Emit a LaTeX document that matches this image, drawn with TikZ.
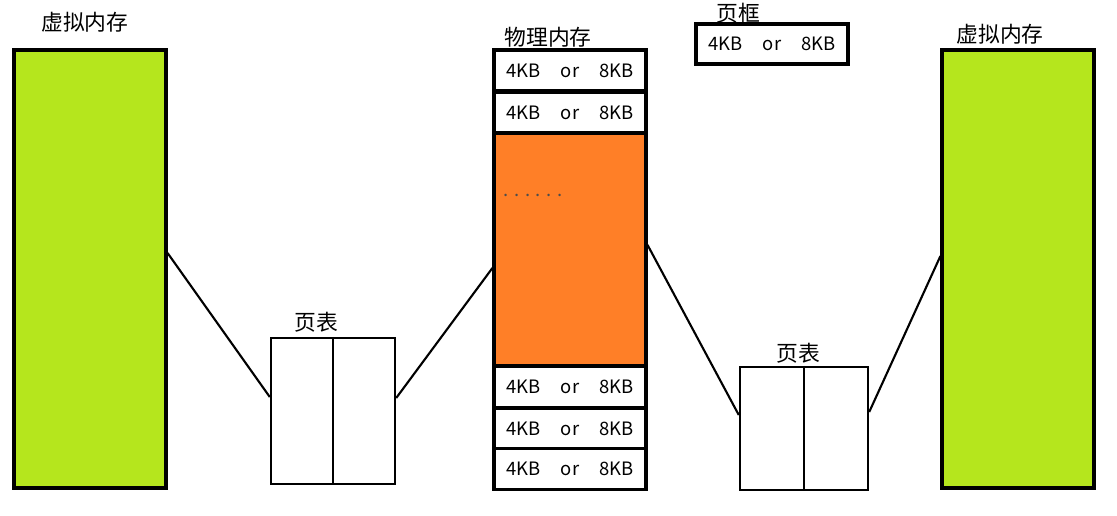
\documentclass[tikz,border=0pt]{standalone}
\usepackage{fontspec}
\newfontfamily\cjk{Noto Sans CJK SC}
\usetikzlibrary{positioning}

\definecolor{limegreen}{HTML}{B5E61D}
\definecolor{paintorange}{HTML}{FF7F27}

\begin{document}
\begin{tikzpicture}[
  x=0.02cm, y=-0.02cm,
  every node/.style={font=\cjk\fontsize{10.5}{12}\selectfont, inner sep=0pt},
  title/.style={font=\cjk\fontsize{12.4}{14}\selectfont},
  vmem/.style={draw, line width=1.8pt, fill=limegreen, minimum width=3.04cm, minimum height=8.76cm},
  cell/.style={draw, line width=1.8pt, fill=white, minimum width=3.04cm, minimum height=0.82cm},
  ptab/.style={draw, line width=1.4pt, fill=white},
  link/.style={line width=1.2pt}
]
  \useasboundingbox (0,0) rectangle (1117,516);
  \newcommand{\kbtext}{4KB\hspace{1.1em}or\hspace{1.1em}8KB}

  \node[vmem] (vmL) at (90,269) {};
  \node[title] (vmLlab) at (85,22) {虚拟内存};
  \node[vmem] (vmR) at (1018,269) {};
  \node[title] (vmRlab) at (1000,34) {虚拟内存};

  \node[cell] (c1) at (570,70.5) {\kbtext};
  \node[cell] (c2) at (570,112.5) {\kbtext};
  \node[cell, fill=paintorange, minimum height=4.66cm] (rest) at (570,249.5) {};
  \node[text=gray!60!black] (dots) at (533,195) {. . . . . .};
  \node[cell] (c3) at (570,387) {\kbtext};
  \node[cell] (c4) at (570,429) {\kbtext};
  \node[cell] (c5) at (570,469) {\kbtext};
  \node[title] (pmlab) at (548,37) {物理内存};

  \node[cell, minimum height=0.8cm] (frame) at (772,44) {\kbtext};
  \node[title] (framelab) at (738,13) {页框};

  \node[ptab, minimum width=2.48cm, minimum height=2.92cm] (ptL) at (333,411) {};
  \draw[line width=1.4pt] (ptL.north) -- (ptL.south);
  \node[title] (ptLlab) at (316,322) {页表};
  \node[ptab, minimum width=2.56cm, minimum height=2.46cm] (ptR) at (804,428.5) {};
  \draw[line width=1.4pt] (ptR.north) -- (ptR.south);
  \node[title] (ptRlab) at (798,353) {页表};

  \draw[link] ([yshift=0.32cm]vmL.east) -- ([yshift=0.28cm]ptL.west);
  \draw[link] ([yshift=0.26cm]ptL.east) -- ([yshift=-0.37cm]rest.west);
  \draw[link] ([yshift=0.09cm]rest.east) -- ([yshift=0.27cm]ptR.west);
  \draw[link] ([yshift=0.33cm]ptR.east) -- ([yshift=0.26cm]vmR.west);
\end{tikzpicture}
\end{document}
